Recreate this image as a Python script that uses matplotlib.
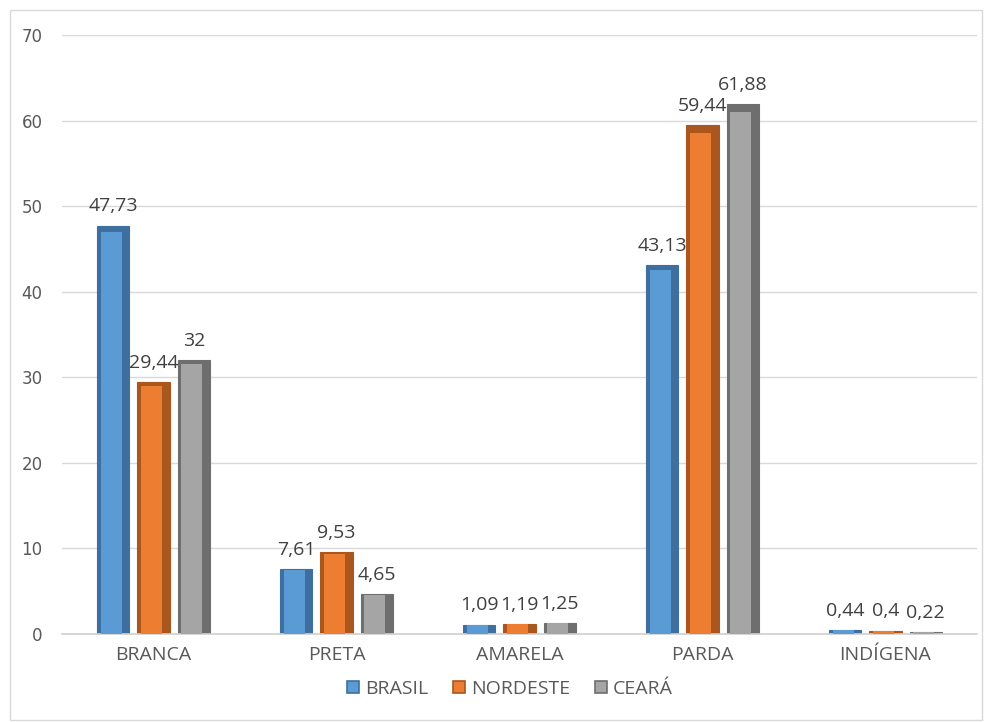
import matplotlib
matplotlib.use("Agg")
import matplotlib.pyplot as plt
import numpy as np
from matplotlib.patches import Rectangle

categories = ["BRANCA", "PRETA", "AMARELA", "PARDA", "INDÍGENA"]
brasil = [47.73, 7.61, 1.09, 43.13, 0.44]
nordeste = [29.44, 9.53, 1.19, 59.44, 0.4]
ceara = [32, 4.65, 1.25, 61.88, 0.22]
series_names = ["BRASIL", "NORDESTE", "CEARÁ"]
labels_b = ["47,73", "7,61", "1,09", "43,13", "0,44"]
labels_n = ["29,44", "9,53", "1,19", "59,44", "0,4"]
labels_c = ["32", "4,65", "1,25", "61,88", "0,22"]

face = ["#5B9BD5", "#ED7D31", "#A5A5A5"]
dark = ["#3E6F9E", "#A9561F", "#6E6E6E"]

plt.rcParams['font.family'] = ['Open Sans', 'DejaVu Sans']

fig = plt.figure(figsize=(9.85, 7.22), dpi=100)
ax = fig.add_axes([62/985, 88/722, 915/985, 599/722])

x = np.arange(len(categories))
w = 0.175
step = 0.22
data = [brasil, nordeste, ceara]
lbls = [labels_b, labels_n, labels_c]
for i, (vals, lab) in enumerate(zip(data, lbls)):
    pos = x + (i - 1) * step
    ax.bar(pos, vals, width=w, color=dark[i], edgecolor=dark[i], linewidth=0.8, zorder=2)
    ax.bar(pos - w * 0.06, [v * 0.985 for v in vals], width=w * 0.66, color=face[i],
           linewidth=0, zorder=3)
    for p, v, t in zip(pos, vals, lab):
        ax.text(p, v + 1.2, t, ha="center", va="bottom", fontsize=14, color="#404040", zorder=4)

ax.set_xlim(-0.5, 4.5)
ax.set_ylim(0, 70)
ax.set_yticks(range(0, 71, 10))
ax.set_xticks(x)
ax.set_xticklabels(categories)
ax.tick_params(axis="x", length=0, labelsize=14, colors="#595959", pad=9)
ax.tick_params(axis="y", length=0, labelsize=12, colors="#595959", pad=14)
for t in ax.get_yticklabels():
    t.set_fontfamily(['DejaVu Sans'])
ax.grid(axis="y", color="#D9D9D9", linewidth=1, zorder=0)
ax.set_axisbelow(True)
for s in ["top", "right", "left"]:
    ax.spines[s].set_visible(False)
ax.spines["bottom"].set_color("#D0D0D0")
ax.spines["bottom"].set_linewidth(1.2)

handles = [Rectangle((0, 0), 1, 1, facecolor=face[i], edgecolor=dark[i], linewidth=1.2)
           for i in range(3)]
leg = fig.legend(handles, series_names, loc="center", bbox_to_anchor=(510/985, 1 - 689/722),
                 ncol=3, frameon=False, fontsize=14, handlelength=0.6, handleheight=0.6,
                 handletextpad=0.3, columnspacing=1.3)
for t in leg.get_texts():
    t.set_color("#595959")

fig.patches.append(Rectangle((10/985, 2/722), 972/985, 710/722, transform=fig.transFigure,
                             fill=False, edgecolor="#D9D9D9", linewidth=1))

fig.savefig("out.png", dpi=100)
